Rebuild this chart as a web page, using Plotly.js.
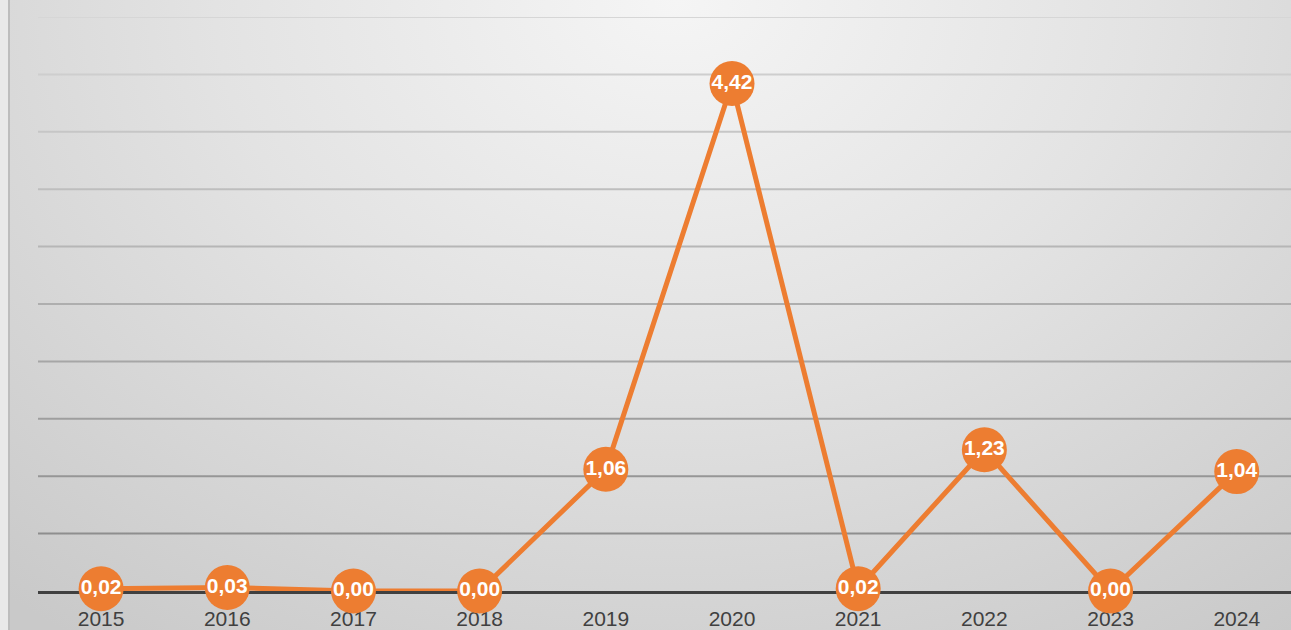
<!DOCTYPE html>
<html>
<head>
<meta charset="utf-8">
<script src="https://cdn.plot.ly/plotly-3.0.1.min.js"></script>
<style>
  html, body { margin:0; padding:0; width:1291px; height:630px; overflow:hidden; background:#e9e9e9; }
  #bg { position:absolute; left:8px; top:0; width:1283px; height:630px;
        border-left:2px solid #bdbdbd; box-sizing:border-box;
        background: radial-gradient(ellipse 80% 125% at 52% 0%, #f5f5f5 0%, #e3e3e3 45%, #c9c9c9 100%); }
  #chart { position:absolute; left:0; top:0; width:1291px; height:630px; }
</style>
</head>
<body>
<div id="bg"></div>
<div id="chart"></div>
<script>
const years = ["2015","2016","2017","2018","2019","2020","2021","2022","2023","2024"];
const values = [0.02, 0.03, 0.00, 0.00, 1.06, 4.42, 0.02, 1.23, 0.00, 1.04];
const gridLevels = [0.5, 1, 1.5, 2, 2.5, 3, 3.5, 4, 4.5, 5];

const labels = values.map(v => v.toFixed(2).replace('.', ','));

// gridline colours darken toward the bottom
function gridColor(v) {
  const t = v / 5; // 0 bottom .. 1 top
  const c = Math.round(0x86 + (0xd6 - 0x86) * t);
  return `rgb(${c},${c},${c})`;
}
const shapes = gridLevels.map(v => ({
  type: 'line', xref: 'paper', yref: 'y', x0: 0, x1: 1, y0: v, y1: v,
  line: { color: gridColor(v), width: 2 }, layer: 'below'
}));

const trace = {
  x: years, y: values, text: labels,
  type: 'scatter', mode: 'lines+markers+text',
  line: { color: '#ED7D31', width: 5 },
  marker: { color: '#ED7D31', size: 45 },
  textposition: 'middle center',
  textfont: { family: 'Liberation Sans, Arial, sans-serif', size: 21, color: '#ffffff', weight: 'bold' },
  cliponaxis: false,
  hoverinfo: 'skip'
};

const layout = {
  width: 1291, height: 630,
  margin: { l: 38, r: 0, t: 17, b: 39, pad: 0 },
  paper_bgcolor: 'rgba(0,0,0,0)', plot_bgcolor: 'rgba(0,0,0,0)',
  showlegend: false,
  xaxis: {
    type: 'category', range: [-0.5, 9.43], showgrid: false, zeroline: false,
    showline: true, linecolor: '#404040', linewidth: 3, layer: 'below traces',
    ticks: '', tickfont: { family: 'Liberation Sans, Arial, sans-serif', size: 21, color: '#404040' },
    ticklabelstandoff: 7, fixedrange: true
  },
  yaxis: {
    range: [0, 5], showgrid: false, zeroline: false, showticklabels: false,
    showline: false, ticks: '', fixedrange: true
  },
  shapes: shapes
};

Plotly.newPlot('chart', [trace], layout, { displayModeBar: false, staticPlot: true });
</script>
</body>
</html>
